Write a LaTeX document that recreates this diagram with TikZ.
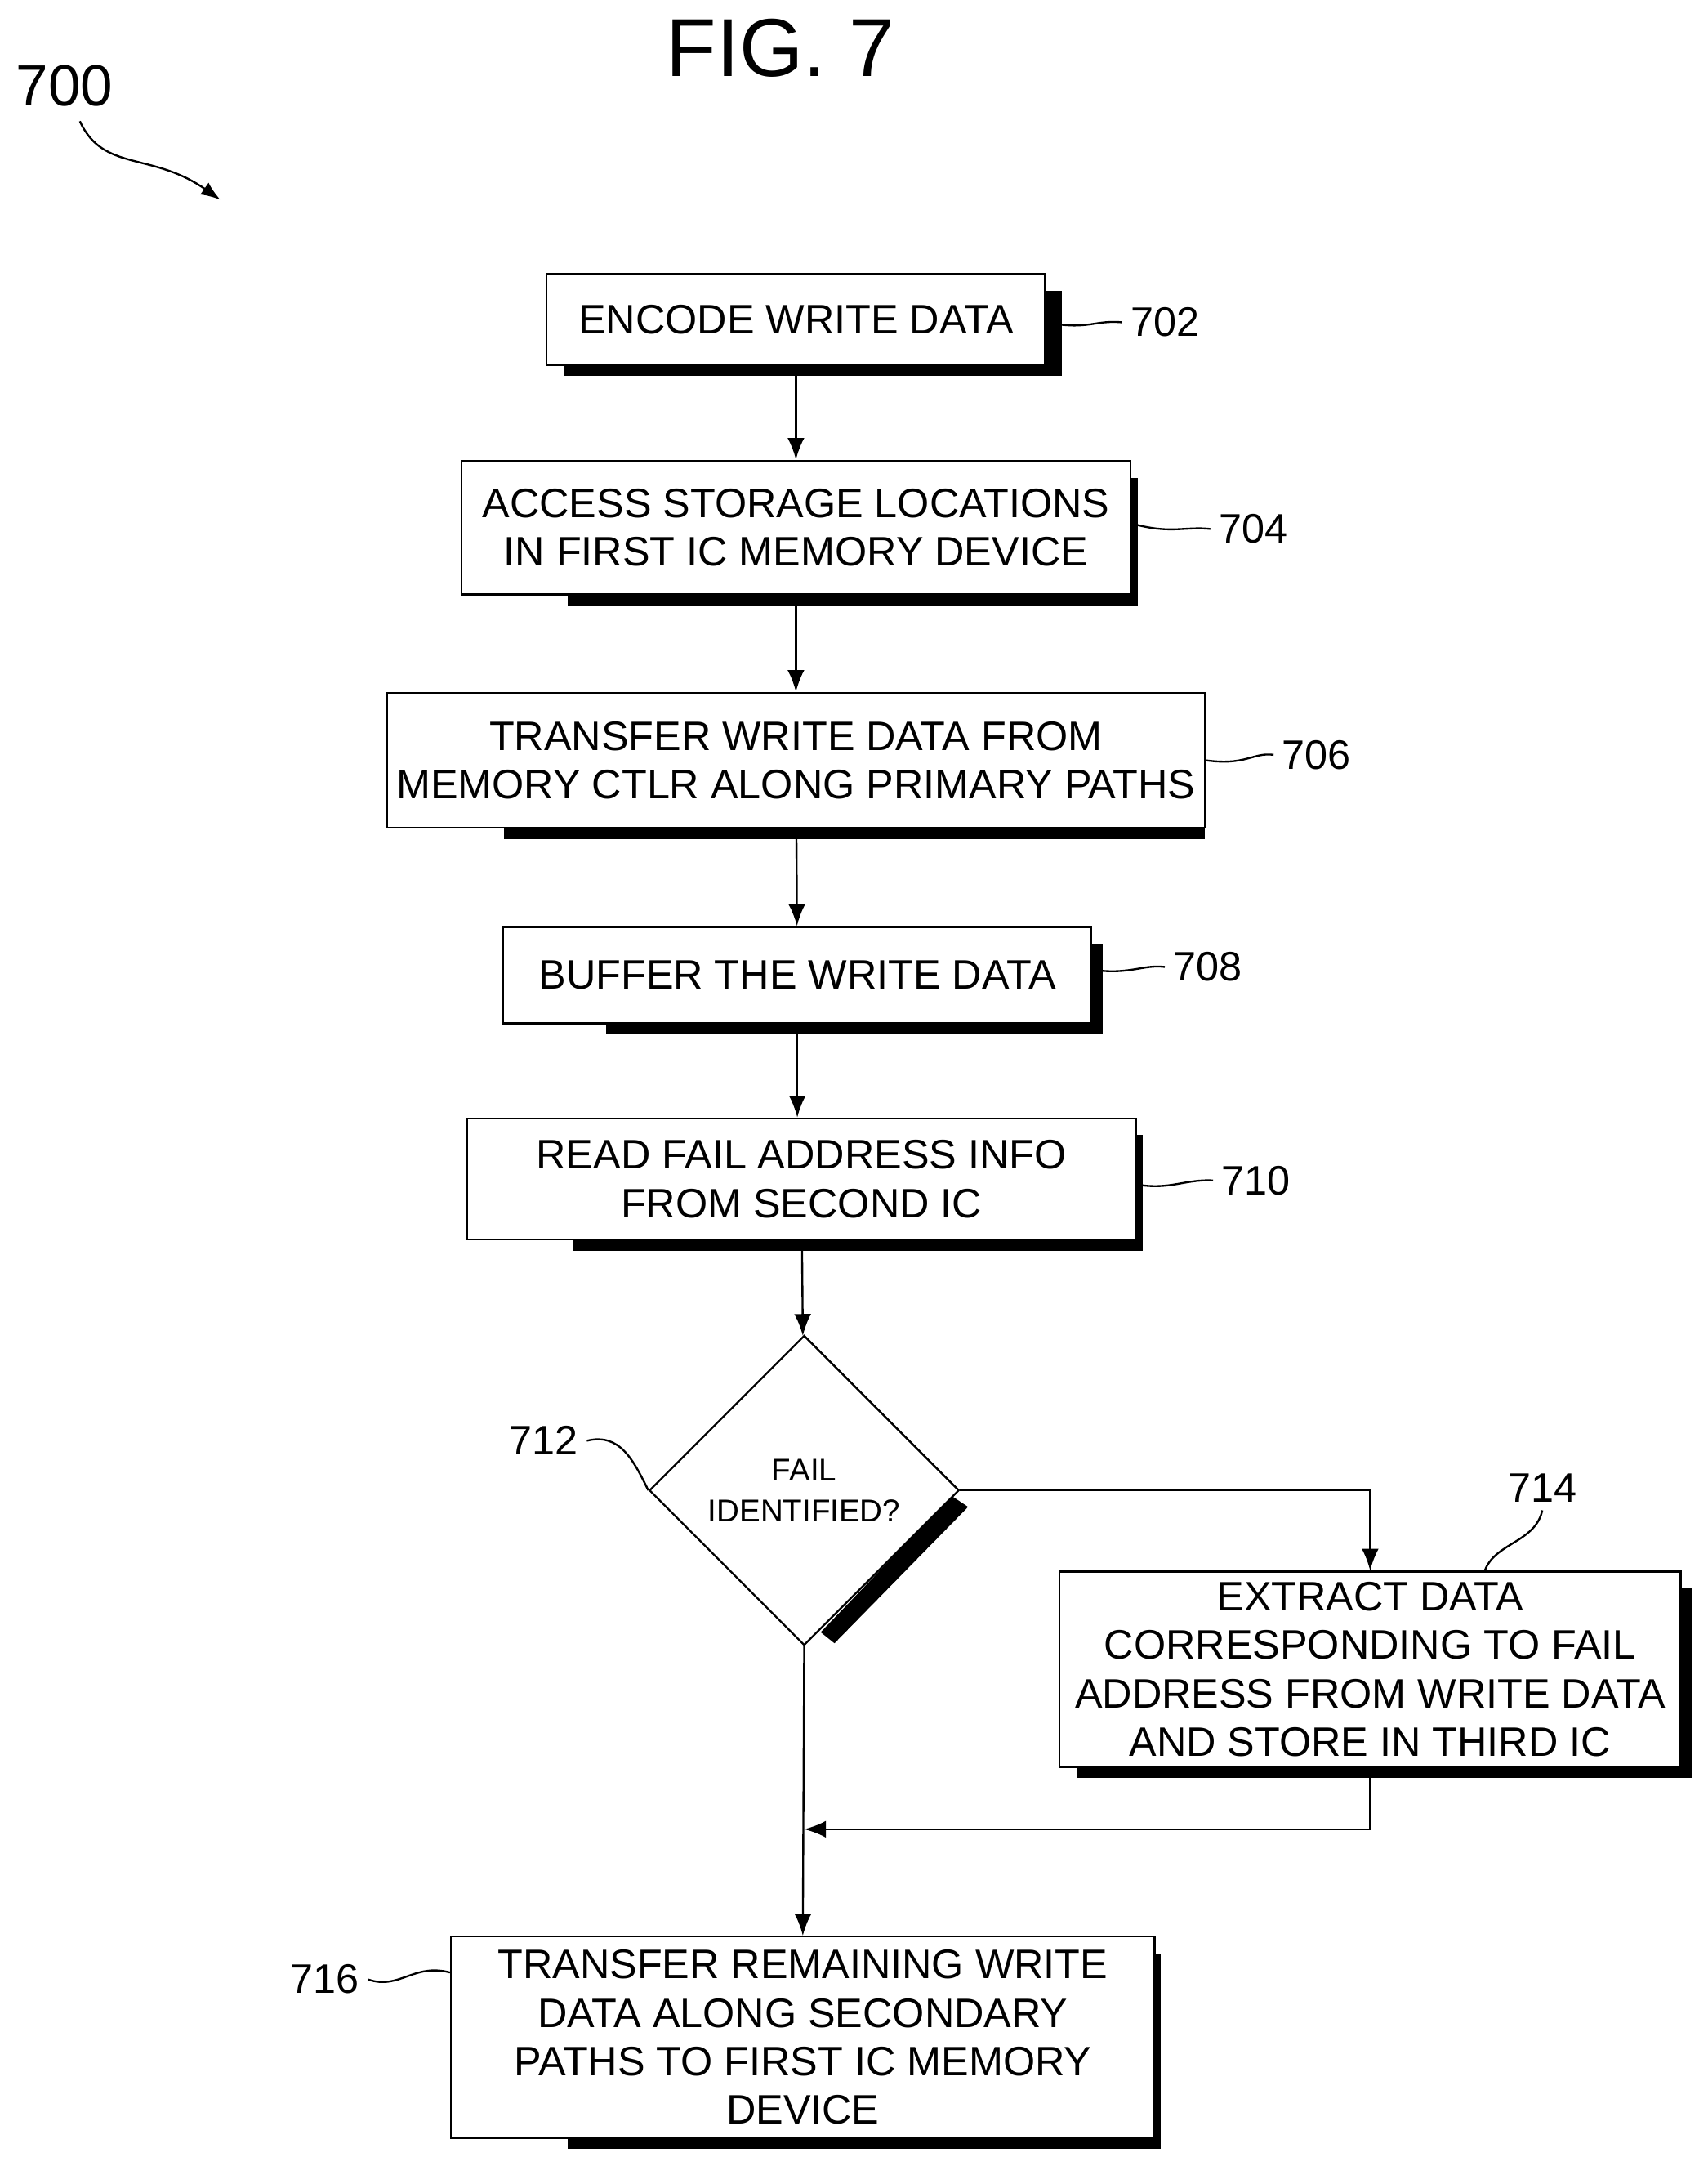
\documentclass[tikz,border=0pt]{standalone}
\usepackage{fontspec}
\setmainfont{Liberation Sans}
\usetikzlibrary{positioning}
\usetikzlibrary{shapes.geometric}
\usetikzlibrary{calc}
\usetikzlibrary{arrows.meta}
\tikzset{
    stepbox/.style = {rectangle,draw,thick,fill=white,align=center,font=\fontsize{17}{20}\selectfont},
    shade/.style = {fill=black},
    flow/.style = {thick,-{Latex[length=9pt,width=7pt]}},
    lead/.style = {thick},
    tag/.style = {font=\fontsize{17}{20}\selectfont}}

\begin{document}
\begin{tikzpicture}[x=0.02cm,y=-0.02cm]
        \useasboundingbox (0,0) rectangle (1240,1566);
        % title
        \node[font=\fontsize{34}{40}\selectfont] (T) at (567,35) {FIG. 7};
        \node[font=\fontsize{24}{28}\selectfont] (N) at (47,62) {700};
        \coordinate (Nt) at (160,145);
        \draw[thick,-{Latex[length=8pt,width=6pt]}] (58,88) .. controls (75,125) and (110,110) .. (Nt);
        % shadows
        \fill[shade] (409,211) rectangle (771,273);
        \fill[shade] (412,347) rectangle (826,440);
        \fill[shade] (366,515) rectangle (875,609);
        \fill[shade] (440,685) rectangle (801,751);
        \fill[shade] (416,824) rectangle (830,908);
        \fill[shade] (782,1153) rectangle (1229,1291);
        \fill[shade] (412,1418) rectangle (843,1560);
        \fill[shade] (691,1086) -- (703,1094) -- (606,1193) -- (596,1185) -- cycle;
        % steps
        \node[stepbox,minimum width=362*0.02cm,minimum height=66*0.02cm] (S702) at (578,232) {ENCODE WRITE DATA};
        \node[stepbox,minimum width=486*0.02cm,minimum height=97*0.02cm] (S704) at (578,383) {ACCESS STORAGE LOCATIONS\\IN FIRST IC MEMORY DEVICE};
        \node[stepbox,minimum width=594*0.02cm,minimum height=98*0.02cm] (S706) at (578,552) {TRANSFER WRITE DATA FROM\\MEMORY CTLR ALONG PRIMARY PATHS};
        \node[stepbox,minimum width=427*0.02cm,minimum height=70*0.02cm] (S708) at (579,708) {BUFFER THE WRITE DATA};
        \node[stepbox,minimum width=486*0.02cm,minimum height=88*0.02cm] (S710) at (582,856) {READ FAIL ADDRESS INFO\\FROM SECOND IC};
        \node[diamond,draw,thick,fill=white,aspect=1,minimum size=225*0.02cm,inner sep=0pt,align=center,font=\fontsize{13}{17}\selectfont] (D712) at (584,1082) {FAIL\\IDENTIFIED?};
        \node[stepbox,minimum width=451*0.02cm,minimum height=142*0.02cm] (S714) at (995,1212) {EXTRACT DATA\\CORRESPONDING TO FAIL\\ADDRESS FROM WRITE DATA\\AND STORE IN THIRD IC};
        \node[stepbox,minimum width=511*0.02cm,minimum height=146*0.02cm] (S716) at (583,1479) {TRANSFER REMAINING WRITE\\DATA ALONG SECONDARY\\PATHS TO FIRST IC MEMORY\\DEVICE};
        % flow
        \draw[flow] (S702) -- (S704);
        \draw[flow] (S704) -- (S706);
        \draw[flow] (S706) -- (S708);
        \draw[flow] (S708) -- (S710.north -| S708.south);
        \draw[flow] (S710) -- (D712);
        \draw[flow] (D712.east) -| (S714.north);
        \draw[flow] (D712.south) -- (S716.north);
        \coordinate (J) at (584,1328);
        \draw[flow] (S714.south) |- (J);
        % reference tags
        \node[tag] (L702) at (846,234) {702};
        \node[tag] (L704) at (910,384) {704};
        \node[tag] (L706) at (956,548) {706};
        \node[tag] (L708) at (877,702) {708};
        \node[tag] (L710) at (912,857) {710};
        \node[tag] (L712) at (395,1046) {712};
        \node[tag] (L714) at (1120,1080) {714};
        \node[tag] (L716) at (236,1437) {716};
        \draw[lead] (S702.east |- 0,234) .. controls (790,240) and (795,232) .. (L702.west);
        \draw[lead] (S704.east |- 0,380) .. controls (850,388) and (860,382) .. (L704.west);
        \draw[lead] (S706.east |- 0,552) .. controls (905,556) and (910,546) .. (L706.west);
        \draw[lead] (S708.east |- 0,704) .. controls (820,708) and (830,700) .. (L708.west);
        \draw[lead] (S710.east |- 0,860) .. controls (850,864) and (860,856) .. (L710.west);
        \draw[lead] (L712.east) .. controls (450,1040) and (460,1060) .. (D712.west);
        \draw[lead] (L714.south) .. controls (1115,1120) and (1085,1120) .. (1078,1141);
        \draw[lead] (L716.east) .. controls (290,1445) and (300,1425) .. (S716.north west |- 0,1432);
\end{tikzpicture}
\end{document}
